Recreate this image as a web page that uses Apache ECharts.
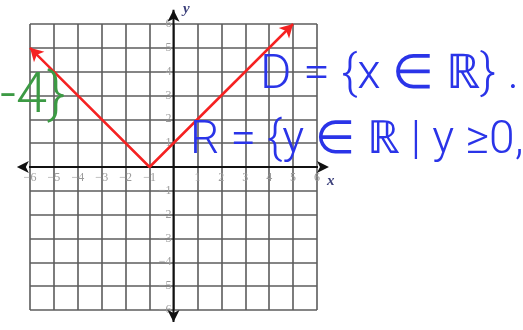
<!DOCTYPE html>
<html>
<head>
<meta charset="utf-8">
<script src="https://cdn.jsdelivr.net/npm/echarts@6/dist/echarts.min.js"></script>
<style>
  html, body { margin: 0; padding: 0; background: #fff; }
  #chart { width: 523px; height: 330px; }
</style>
</head>
<body>
<div id="chart"></div>
<script>
// Axis ranges and tick spacing
const xRange = [-6, 6];
const yRange = [-6, 6];
const tickStep = 1;

// y = |x + 1| drawn from x = -6 to x = 5
const graphX = [-6, -1, 5];
const graphY = [5, 0, 6];

// Where the coordinate axes stop (arrow heads), in data units
const xAxisEnds = [-6.55, 6.5];
const yAxisEnds = [-6.5, 6.6];

// Notes written beside the graph
const domainNote = 'D = {x ∈ ℝ} .';
const rangeNote = 'R = {y ∈ ℝ | y ≥0,';
const sideNote = '-4}';

function tickLabel(v) {
  if (v === 0) return '';
  return v < 0 ? '\u2212' + (-v) : String(v);
}

const el = document.getElementById('chart');
const chart = echarts.init(el, null, { renderer: 'canvas' });

// Plot area; tick labels sit on the zero lines, which are at the middle of the box
const box = { left: 30, right: 206, top: 24, bottom: 20 };
const plotW = el.clientWidth - box.left - box.right;
const plotH = el.clientHeight - box.top - box.bottom;
const zeroFromBottom = plotH * (0 - yRange[0]) / (yRange[1] - yRange[0]);
const zeroFromLeft = plotW * (0 - xRange[0]) / (xRange[1] - xRange[0]);

const gridLine = { show: true, lineStyle: { color: '#5c5c5c', width: 1.6 } };
const labelStyle = {
  color: '#9c9c9c',
  fontFamily: '"Liberation Serif", "DejaVu Serif", serif',
  fontSize: 12,
  formatter: tickLabel
};

const curve = graphX.map((x, i) => {
  const item = { value: [x, graphY[i]] };
  if (i === 0) { item.symbol = 'arrow'; item.symbolRotate = 45; }
  else if (i === graphX.length - 1) { item.symbol = 'arrow'; item.symbolRotate = -45; }
  else { item.symbol = 'none'; }
  return item;
});

const handFont = 'Roboto, "Open Sans", "DejaVu Sans", sans-serif';

chart.setOption({
  animation: false,
  grid: Object.assign({ containLabel: false }, box),
  xAxis: {
    type: 'value', min: xRange[0], max: xRange[1], interval: tickStep,
    offset: -zeroFromBottom,
    axisLine: { show: false, onZero: false },
    axisTick: { show: false },
    splitLine: gridLine,
    axisLabel: Object.assign({ margin: 5 }, labelStyle)
  },
  yAxis: {
    type: 'value', min: yRange[0], max: yRange[1], interval: tickStep,
    offset: -zeroFromLeft,
    axisLine: { show: false, onZero: false },
    axisTick: { show: false },
    splitLine: gridLine,
    axisLabel: Object.assign({ margin: 2 }, labelStyle)
  },
  series: [
    {
      name: 'x axis', type: 'line', clip: false, silent: true,
      data: [
        { value: [xAxisEnds[0], 0], symbolRotate: 90 },
        { value: [xAxisEnds[1], 0], symbolRotate: -90 }
      ],
      symbol: 'arrow', symbolSize: [9, 12],
      itemStyle: { color: '#111' },
      lineStyle: { color: '#111', width: 2 }
    },
    {
      name: 'y axis', type: 'line', clip: false, silent: true,
      data: [
        { value: [0, yAxisEnds[0]], symbolRotate: 180 },
        { value: [0, yAxisEnds[1]], symbolRotate: 0 }
      ],
      symbol: 'arrow', symbolSize: [9, 12],
      itemStyle: { color: '#111' },
      lineStyle: { color: '#111', width: 2 }
    },
    {
      name: 'y = |x + 1|', type: 'line', clip: false, silent: true,
      data: curve,
      symbolSize: [11, 13],
      itemStyle: { color: '#f52222' },
      lineStyle: { color: '#f52222', width: 2.5 },
      z: 5
    }
  ],
  graphic: [
    {
      type: 'text', left: 183, top: 2,
      style: { text: 'y', fontFamily: '"Liberation Serif", serif', fontStyle: 'italic', fontWeight: 'bold', fontSize: 15, fill: '#3b3f7a' }
    },
    {
      type: 'text', left: 327, top: 174,
      style: { text: 'x', fontFamily: '"Liberation Serif", serif', fontStyle: 'italic', fontWeight: 'bold', fontSize: 15, fill: '#3b3f7a' }
    },
    {
      type: 'text', left: 260, top: 52, z: 10,
      style: { text: domainNote, fontFamily: handFont, fontWeight: 300, fontSize: 48, fill: '#2a34e8' }
    },
    {
      type: 'text', left: 190, top: 118, z: 10,
      style: { text: rangeNote, fontFamily: handFont, fontWeight: 300, fontSize: 46, fill: '#2a34e8' }
    },
    {
      type: 'text', left: 0, top: 70, z: 10,
      style: { text: sideNote, fontFamily: handFont, fontWeight: 300, fontSize: 56, fill: '#3c9a44' }
    }
  ]
});
</script>
</body>
</html>
